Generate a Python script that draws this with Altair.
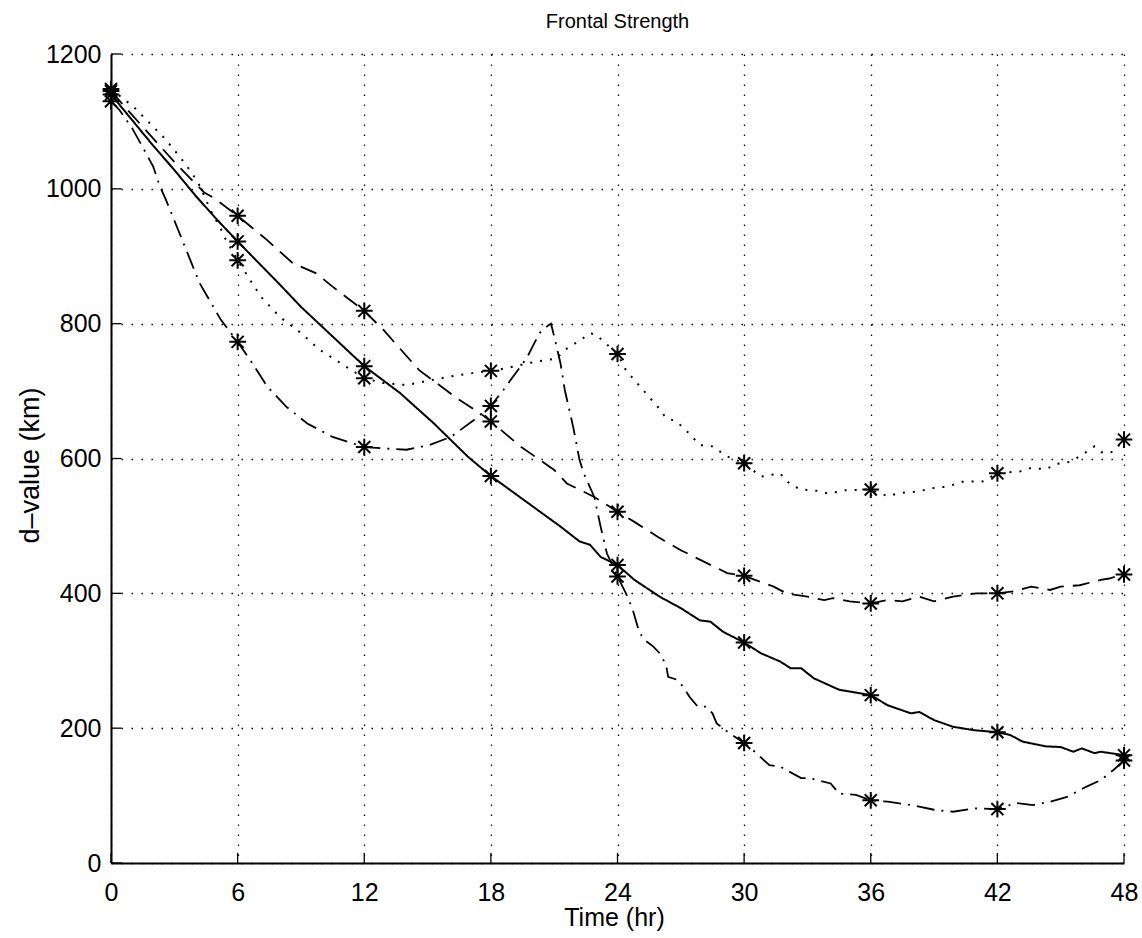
import altair as alt
import pandas as pd

# ---------------- data ----------------
solid_t = [0, 1, 2, 3, 4, 5, 6, 7, 8, 9, 10.5, 12, 13.7, 15.3, 16.9, 18, 19.1, 20.2, 21.3, 22.2, 22.7, 23.2,
           24, 24.8, 26, 27, 27.9, 28.4, 29, 30, 30.8, 31.7, 32.2, 32.7, 33.3, 34.5, 36, 36.8, 37.9, 38.3,
           39, 39.9, 40.9, 42, 42.6, 43.2, 44.3, 45, 45.6, 46, 46.6, 46.9, 48]
solid_v = [1140, 1102, 1064, 1028, 990, 955, 922, 890, 858, 825, 781, 737, 697, 652, 603, 574, 549, 524, 499,
           477, 472, 454, 442, 420, 395, 378, 360, 358, 343, 327, 311, 299, 289, 289, 274, 257, 249, 234, 222,
           224, 212, 202, 197, 194, 190, 180, 173, 172, 165, 170, 163, 165, 160]

dashed_t = [0, 1.5, 3, 4.4, 4.9, 6, 7.4, 8.6, 9.7, 10.5, 12, 12.9, 14.6, 16.5, 17.5, 18, 19.4, 21, 21.6, 22.9,
            24, 24.8, 25.9, 27, 27.9, 29.2, 30, 31.4, 32, 33, 33.8, 34.2, 35, 36, 36.8, 37.5, 38.3, 39, 39.9,
            41, 42, 42.8, 43.6, 44.5, 45, 45.9, 46.9, 47.3, 48]
dashed_v = [1145, 1092, 1040, 995, 986, 960, 924, 890, 875, 855, 819, 791, 731, 687, 667, 655, 618, 583, 563,
            543, 521, 506, 484, 464, 450, 430, 426, 410, 400, 395, 390, 393, 388, 385, 390, 388, 395, 388, 395,
            400, 400, 403, 410, 405, 410, 412, 420, 422, 428]

dotted_t = [0, 1.06, 2.6, 3.5, 4.1, 4.5, 4.7, 5.2, 5.4, 6, 7.1, 8, 9, 9.9, 10.9, 12, 12.9, 14, 15.3, 16.5, 18,
            18.75, 19.7, 20.6, 21.1, 21.5, 21.9, 22.3, 22.7, 23, 23.4, 24, 24.4, 25.2, 25.9, 26.3, 26.8, 27.4,
            27.9, 28.5, 29.2, 30, 30.8, 31.7, 32.2, 32.7, 33.5, 34, 34.8, 36, 36.8, 37.4, 38.2, 39.1, 39.6,
            40.4, 41.3, 42, 43.1, 43.6, 44.3, 44.8, 45.4, 45.9, 46.6, 47, 47.5, 48]
dotted_v = [1148, 1122, 1073, 1038, 1011, 984, 969, 941, 927, 894, 840, 810, 786, 761, 741, 719, 712, 709, 717,
            724, 730, 734, 741, 746, 748, 761, 769, 777, 786, 783, 772, 755, 731, 702, 677, 660, 655, 637, 620,
            618, 603, 593, 573, 578, 561, 554, 552, 548, 553, 554, 544, 549, 551, 557, 558, 566, 566, 578, 581,
            586, 584, 592, 595, 603, 618, 608, 610, 628]

dashdot_t = [0, 0.4, 1, 1.5, 2, 2.3, 2.6, 3.3, 4.2, 5.2, 6, 6.6, 7.4, 8.3, 9.3, 10.5, 12, 12.9, 14, 15.1, 16.1,
             17.2, 18, 18.6, 19.7, 20.3, 20.7, 20.85, 21, 21.3, 21.5, 21.9, 22.2, 22.4, 22.9, 23.2, 23.5, 24,
             24.4, 24.7, 25, 25.2, 25.7, 26, 26.3, 26.4, 26.8, 27.1, 27.4, 27.8, 28.2, 28.5, 28.7, 29.2, 30,
             30.4, 31.2, 31.7, 32.7, 33.1, 34.1, 34.5, 35.3, 36, 36.8, 37.9, 39, 39.9, 40.9, 42, 42.9, 43.7,
             44.5, 45.3, 46.2, 46.9, 47.5, 48]
dashdot_v = [1130, 1117, 1090, 1062, 1033, 1005, 984, 930, 860, 806, 773, 746, 707, 677, 652, 632, 617, 615, 613,
             620, 632, 657, 678, 702, 749, 786, 797, 800, 781, 741, 702, 647, 598, 578, 543, 499, 459, 425, 400,
             378, 346, 333, 321, 311, 294, 276, 272, 262, 247, 232, 232, 222, 207, 195, 178, 168, 145, 143, 126,
             126, 118, 103, 101, 93, 91, 86, 79, 76, 81, 80, 89, 86, 91, 98, 113, 123, 138, 152]

marker_t = [0, 6, 12, 18, 24, 30, 36, 42, 48]
solid_m = [1140, 922, 737, 574, 442, 327, 249, 194, 160]
dashed_m = [1145, 960, 819, 655, 521, 426, 385, 400, 428]
dotted_m = [1148, 894, 719, 730, 755, 593, 554, 578, 628]
dashdot_m = [1130, 773, 617, 678, 425, 178, 93, 80, 152]

x_ticks = [0, 6, 12, 18, 24, 30, 36, 42, 48]
y_ticks = [0, 200, 400, 600, 800, 1000, 1200]

# ---------------- tables ----------------
def line_df(ts, vs):
    return pd.DataFrame({"t": ts, "v": vs, "o": list(range(len(ts)))})

marker_df = pd.DataFrame({
    "t": marker_t * 4,
    "v": solid_m + dashed_m + dotted_m + dashdot_m,
})
xtick_df = pd.DataFrame({"t": x_ticks, "v": [0] * len(x_ticks), "v2": [15] * len(x_ticks)})
ytick_df = pd.DataFrame({"t": [0] * len(y_ticks), "t2": [0.5] * len(y_ticks), "v": y_ticks})

FONT = "Liberation Sans"

x_enc = alt.X("t:Q", title="Time (hr)",
              scale=alt.Scale(domain=[0, 48], nice=False, zero=False),
              axis=alt.Axis(values=x_ticks, format="d", labelFlush=False, labelOverlap=False,
                            labelPadding=17, titleX=503, titleY=62, titleBaseline="alphabetic",
                            titleAlign="center"))
y_enc = alt.Y("v:Q", title="d–value (km)",
              scale=alt.Scale(domain=[0, 1200], nice=False, zero=False),
              axis=alt.Axis(values=y_ticks, format="d", labelFlush=False, labelOverlap=False,
                            labelPadding=10, titleX=-73, titleY=411, titleBaseline="alphabetic",
                            titleAlign="center", titleAngle=270, titleFontSize=27))

def line_layer(ts, vs, dash, width=1.8):
    return alt.Chart(line_df(ts, vs)).mark_line(
        color="black", strokeWidth=width, strokeDash=dash, clip=True
    ).encode(x=x_enc, y=y_enc, order="o:Q")

ASTERISK = ("M-1,0L1,0M0,-1L0,1M-0.72,-0.72L0.72,0.72M-0.72,0.72L0.72,-0.72")

layers = [
    line_layer(solid_t, solid_v, [1, 0], 2.0),
    line_layer(dashed_t, dashed_v, [17, 9]),
    line_layer(dotted_t, dotted_v, [2, 8], 2.0),
    line_layer(dashdot_t, dashdot_v, [18, 7, 2, 7]),
    alt.Chart(marker_df).mark_point(shape=ASTERISK, size=280, filled=False, stroke="black",
                                    strokeWidth=2, opacity=1).encode(x=x_enc, y=y_enc),
    alt.Chart(xtick_df).mark_rule(color="black", strokeWidth=1.3).encode(
        x=x_enc, y=y_enc, y2="v2:Q"),
    alt.Chart(ytick_df).mark_rule(color="black", strokeWidth=1.3).encode(
        x=x_enc, x2="t2:Q", y=y_enc),
]

chart = alt.layer(*layers).properties(
    width=1013, height=809,
    autosize=alt.AutoSizeParams(type="none"),
    padding={"left": 111, "top": 54, "right": 18, "bottom": 75},
    title="Frontal Strength",
    background="white",
).configure_title(
    fontSize=20, font=FONT, fontWeight="normal", color="black", anchor="middle", offset=10,
).configure_view(strokeWidth=0).configure_axis(
    labelFont=FONT, labelFontSize=25, labelColor="black",
    titleFont=FONT, titleFontSize=25, titleFontWeight="normal", titleColor="black",
    domainColor="black", domainWidth=2,
    ticks=False, tickSize=0,
    grid=True, gridColor="black", gridDash=[1.5, 8.5], gridWidth=1.3, gridOpacity=1,
)

chart.save("out.html", embed_options={"renderer": "svg", "actions": False})
